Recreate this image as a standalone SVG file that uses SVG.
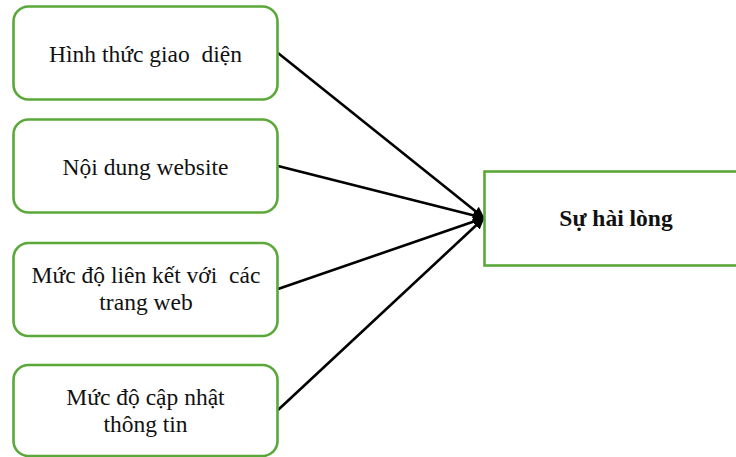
<svg xmlns="http://www.w3.org/2000/svg" width="736" height="457" viewBox="0 0 736 457">
  <style>
    .box { fill: #ffffff; stroke: #5aa83a; stroke-width: 2.6; }
    .lbl { font-family: 'Liberation Serif', 'DejaVu Serif', serif; font-size: 23.5px; fill: #111111; text-anchor: middle; }
    .bold { font-weight: bold; }
    .edge { stroke: #000000; stroke-width: 2.6; fill: none; marker-end: url(#head); }
  </style>
  <defs>
    <marker id="head" markerUnits="userSpaceOnUse" markerWidth="12" markerHeight="12" refX="11" refY="6" orient="auto">
      <path d="M0,0.5 L12,6 L0,11.5 z" fill="#000000"/>
    </marker>
  </defs>
  <rect width="736" height="457" fill="#ffffff"/>

  <g id="connectors">
    <line class="edge" x1="278" y1="53" x2="484" y2="218"/>
    <line class="edge" x1="278" y1="166" x2="484" y2="218"/>
    <line class="edge" x1="278" y1="289" x2="484" y2="218"/>
    <line class="edge" x1="278" y1="410" x2="484" y2="218"/>
  </g>

  <g id="node-giao-dien">
    <rect class="box" x="13.5" y="6.5" width="264" height="93" rx="15"/>
    <text class="lbl" x="145.5" y="61.5" xml:space="preserve">Hình thức giao  diện</text>
  </g>

  <g id="node-noi-dung">
    <rect class="box" x="13.5" y="119.5" width="264" height="93" rx="15"/>
    <text class="lbl" x="145.5" y="174.5">Nội dung website</text>
  </g>

  <g id="node-lien-ket">
    <rect class="box" x="13.5" y="243" width="264" height="93" rx="15"/>
    <text class="lbl" x="146" y="283" xml:space="preserve">Mức độ liên kết với  các</text>
    <text class="lbl" x="146" y="310">trang web</text>
  </g>

  <g id="node-cap-nhat">
    <rect class="box" x="13.5" y="365" width="264" height="91" rx="15"/>
    <text class="lbl" x="145.5" y="405">Mức độ cập nhật</text>
    <text class="lbl" x="145.5" y="432">thông tin</text>
  </g>

  <g id="node-hai-long">
    <rect class="box" x="484.5" y="171.5" width="270" height="94"/>
    <text class="lbl bold" x="616" y="226">Sự hài lòng</text>
  </g>
</svg>
